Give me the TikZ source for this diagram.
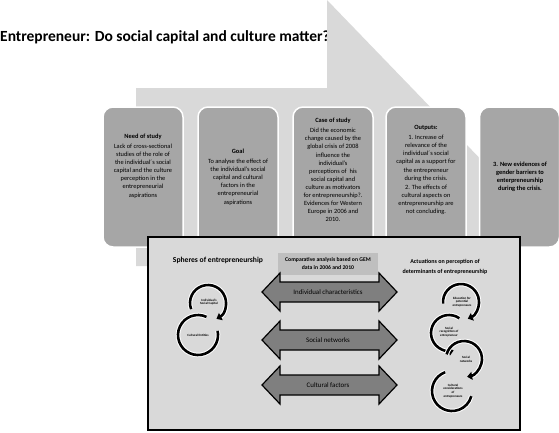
\documentclass[tikz,border=0pt]{standalone}
\usepackage{fontspec}
\setmainfont{Carlito}
\usepackage{tikz}
\usetikzlibrary{arrows.meta}
\definecolor{grisfondo}{HTML}{D9D9D9}
\definecolor{griscaja}{HTML}{A6A6A6}
\definecolor{grisflecha}{HTML}{7F7F7F}
\definecolor{grismedio}{HTML}{BFBFBF}

\begin{document}
\begin{tikzpicture}[
    x=1pt, y=-1pt,
    every node/.style={font=\fontsize{6.4}{8.1}\selectfont, align=center, inner sep=0pt},
    caja/.style={draw=white, line width=1.5pt, fill=griscaja, rounded corners=10pt,
        minimum width=80pt, minimum height=140pt},
    dobleflecha/.style={draw=black, line width=1.2pt, fill=grisflecha, line join=miter},
    giro/.style={draw=black, line width=2.6pt, -{Triangle[length=5pt, width=8pt]},
        preaction={draw=white, line width=4.6pt}},
    chico/.style={font=\fontsize{3.2}{3.8}\selectfont\bfseries}
]
\useasboundingbox (0,0) rectangle (559,432);

\node[anchor=west, font=\fontsize{15.5}{18}\selectfont\bfseries] (titulo) at (0,37)
    {Entrepreneur: Do social capital and culture matter?};

% big bent arrow behind the boxes
\fill[grisfondo] (136,88) -- (327,88) -- (327,0) -- (520,200) -- (327,400)
    -- (327,266) -- (136,266) -- cycle;

% the five steps
\node[caja] (necesidad) at (143,177) {};
\node[caja] (objetivo) at (238,177) {};
\node[caja] (caso) at (333,177) {};
\node[caja] (resultados) at (426,177) {};
\node[caja] (evidencias) at (519.5,177) {};

\node (tnecesidad) at (143,166) {\textbf{Need of study}\\[2pt]
    Lack of cross-sectional\\studies of the role of\\the individual´s social\\
    capital and the culture\\perception in the\\entrepreneurial\\aspirations};
\node (tobjetivo) at (238,177) {\textbf{Goal}\\[2pt]
    To analyse the effect of\\the individual's social\\capital and cultural\\
    factors in the\\entrepreneurial\\aspirations};
\node (tcaso) at (333,170) {\textbf{Case of study}\\[2pt]
    Did the economic\\change caused by the\\global crisis of 2008\\influence the\\
    individual's\\perceptions of~~his\\social capital and\\culture as motivators\\
    for entrepreneurship?.\\Evidences for Western\\Europe in 2006 and\\2010.};
\node (tresultados) at (426,170) {\textbf{Outputs:}\\[2pt]
    1. Increase of\\relevance of the\\individual´s social\\capital as a support for\\
    the entrepreneur\\during the crisis.\\[1pt]
    2. The effects of\\cultural aspects on\\entrepreneurship are\\not concluding.};
\node[font=\fontsize{6.4}{8.1}\selectfont\bfseries] (tevidencias) at (520,177)
    {3. New evidences of\\gender barriers to\\enterpreneurship\\during the crisis.};

% lower panel
\node[draw=black, line width=1.5pt, fill=grisfondo, minimum width=372pt,
    minimum height=193pt] (panel) at (334,333.5) {};
\node[font=\fontsize{7.6}{9}\selectfont\bfseries] (esferas) at (218,260)
    {Spheres of entrepreneurship};
\node[fill=grismedio, minimum width=100pt, minimum height=22pt,
    font=\fontsize{5.7}{8}\selectfont\bfseries] (comparativo) at (328,264)
    {Comparative analysis based on GEM\\data in 2006 and 2010};
\node[font=\fontsize{6}{10}\selectfont\bfseries] (actuaciones) at (445,267)
    {Actuations on perception of\\determinants of entrepreneurship};

\draw[dobleflecha] (262,292) -- (280,273) -- (280,282) -- (379,282) -- (379,273)
    -- (397,292) -- (379,311) -- (379,302) -- (280,302) -- (280,311) -- cycle;
\draw[dobleflecha] (262,340) -- (280,321) -- (280,330) -- (379,330) -- (379,321)
    -- (397,340) -- (379,359) -- (379,350) -- (280,350) -- (280,359) -- cycle;
\draw[dobleflecha] (262,385) -- (280,366) -- (280,375) -- (379,375) -- (379,366)
    -- (397,385) -- (379,404) -- (379,395) -- (280,395) -- (280,404) -- cycle;
\node[font=\fontsize{6.9}{8}\selectfont] (individual) at (328,292) {Individual characteristics};
\node[font=\fontsize{6.9}{8}\selectfont] (redes) at (328,340) {Social networks};
\node[font=\fontsize{6.9}{8}\selectfont] (cultura) at (328,385) {Cultural factors};

% circular arrows, left
\draw[giro] (208,303) ++(160:18) arc[start angle=160, end angle=422, radius=18];
\draw[giro, -] (198,335) ++(295:20) arc[start angle=295, end angle=-12, radius=20];
\node[chico] (capital) at (209,302) {Individual's\\Social Capital};
\node[chico] (entidades) at (198,335) {Cultural Entities};

% circular arrows, right
\draw[giro] (461,302) ++(175:18) arc[start angle=175, end angle=428, radius=18];
\draw[giro] (449,333) ++(305:18) arc[start angle=305, end angle=75, radius=18];
\draw[giro] (464,359) ++(195:18) arc[start angle=195, end angle=440, radius=18];
\draw[giro, -] (452,391) ++(250:20) arc[start angle=250, end angle=15, radius=20];
\node[chico] (educacion) at (462,302) {Education for\\potential\\entrepreneurs};
\node[chico] (reconocimiento) at (449,332) {Social\\recognition of\\entrepreneur};
\node[chico] (redsocial) at (466,359) {Social\\networks};
\node[chico] (consideraciones) at (453,391) {Cultural\\considerations\\of\\entrepreneurs};
\end{tikzpicture}
\end{document}
